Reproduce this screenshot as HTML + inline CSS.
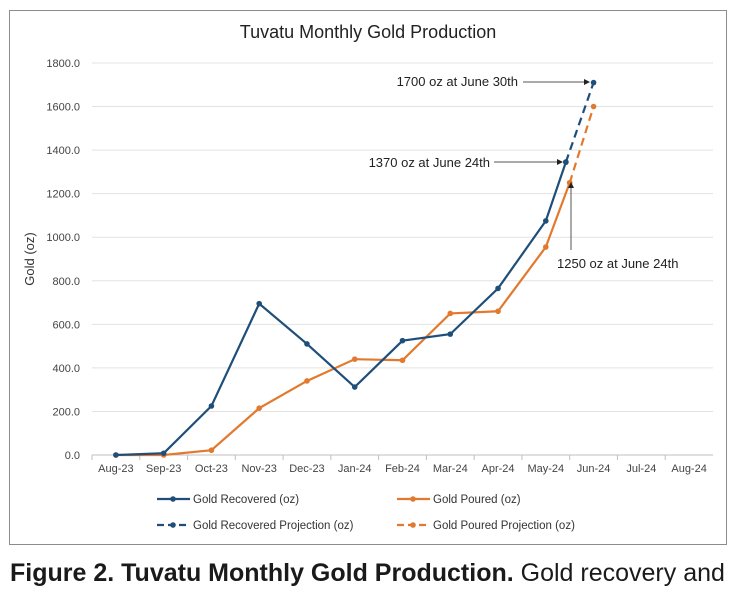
<!DOCTYPE html>
<html><head><meta charset="utf-8"><style>
body{margin:0;width:739px;height:589px;background:#fff;overflow:hidden;font-family:"Liberation Sans",sans-serif;}
#frame{position:absolute;left:9px;top:10px;width:716px;height:533px;border:1px solid #8c8c8c;}
#caption{position:absolute;left:10px;top:559px;font-size:25px;white-space:nowrap;color:#1a1a1a;}
</style></head><body>
<div id="frame"></div>
<svg id="chart" width="739" height="589" style="position:absolute;left:0;top:0"></svg>
<div id="caption"><b>Figure 2. Tuvatu Monthly Gold Production.</b> Gold recovery and</div>
<script>
const categories=["Aug-23","Sep-23","Oct-23","Nov-23","Dec-23","Jan-24","Feb-24","Mar-24","Apr-24","May-24","Jun-24","Jul-24","Aug-24"];
const recoveredX=[0,1,2,3,4,5,6,7,8,9,9.42];
const recovered=[0,8,225,695,510,312,525,555,765,1075,1345];
const pouredX=[0,1,2,3,4,5,6,7,8,9,9.5];
const poured=[0,0,22,215,340,440,435,650,660,955,1250];
const recProjX=[9.42,10];
const recProj=[1345,1710];
const pourProjX=[9.5,10];
const pourProj=[1250,1600];
const yTicks=[0,200,400,600,800,1000,1200,1400,1600,1800];
const NS="http://www.w3.org/2000/svg";
const svg=document.getElementById('chart');
const L=92,R=713,T=63,B=455;
const bw=(R-L)/categories.length;
function xs(i){return L+bw*(i+0.5);}
function ys(v){return B-(v/1800)*(B-T);}
function mk(tag,attrs,parent){const e=document.createElementNS(NS,tag);for(const k in attrs)e.setAttribute(k,attrs[k]);(parent||svg).appendChild(e);return e;}
const BLUE="#1f4e79",ORANGE="#e2792e";
let t=mk('text',{x:368,y:38,'text-anchor':'middle','font-size':18,fill:'#222'});t.textContent="Tuvatu Monthly Gold Production";


t=mk('text',{x:34,y:259,'text-anchor':'middle','font-size':13,fill:'#333',transform:'rotate(-90 34 259)'});t.textContent="Gold (oz)";


yTicks.forEach(v=>{
 const g=mk('line',{x1:L,x2:R,y1:ys(v),y2:ys(v),stroke:v===0?'#bfbfbf':'#e3e3e3','stroke-width':1});
 
 
 const l=mk('text',{x:80,y:ys(v)+4,'text-anchor':'end','font-size':11,fill:'#444'});l.textContent=v.toFixed(1);
 
 
});
categories.forEach((c,i)=>{
 const tk=mk('line',{x1:L+bw*i,x2:L+bw*i,y1:B,y2:B+5,stroke:'#bfbfbf'});
 
 
 const l=mk('text',{x:xs(i),y:B+17,'text-anchor':'middle','font-size':11,fill:'#444'});l.textContent=c;
 
 
});
function series(xa,va,color,dash,name){
 const p=mk('polyline',{points:xa.map((x,i)=>xs(x)+','+ys(va[i])).join(' '),fill:'none',stroke:color,'stroke-width':2.2,'stroke-dasharray':dash||'none'});
 
 
 xa.forEach((x,i)=>{
  const c=mk('circle',{cx:xs(x),cy:ys(va[i]),r:2.8,fill:color});
  
  
 });
}
series(pouredX,poured,ORANGE,null,'gold-poured');
series(recoveredX,recovered,BLUE,null,'gold-recovered');
series(recProjX,recProj,BLUE,'8,5','gold-recovered-projection');
series(pourProjX,pourProj,ORANGE,'8,5','gold-poured-projection');
mk('defs',{}).innerHTML='<marker id="ah" markerWidth="6" markerHeight="6" refX="5" refY="3" orient="auto"><path d="M0,0L6,3L0,6z" fill="#222"/></marker>';
function ann(txt,tx,ty,anchor,x1,y1,x2,y2,name){
 const a=mk('text',{x:tx,y:ty,'text-anchor':anchor,'font-size':13,fill:'#222'});a.textContent=txt;
 
 
 const ln=mk('line',{x1:x1,y1:y1,x2:x2,y2:y2,stroke:'#555','stroke-width':1,'marker-end':'url(#ah)'});
 
 
}
ann("1700 oz at June 30th",518,86,'end',523,82,589,82,'annotation-1700');
ann("1370 oz at June 24th",490,167,'end',494,162,562,162,'annotation-1370');
ann("1250 oz at June 24th",557,268,'start',571,250,571,183,'annotation-1250');
function leg(x,y,color,dash,txt,name){
 const g=mk('g',{});
 
 
 mk('line',{x1:x,x2:x+33,y1:y,y2:y,stroke:color,'stroke-width':2.2,'stroke-dasharray':dash||'none'},g);
 mk('circle',{cx:x+16,cy:y,r:2.8,fill:color},g);
 const l=mk('text',{x:x+36,y:y+4,'font-size':11.5,fill:'#333'},g);l.textContent=txt;
}
leg(157,499,BLUE,null,"Gold Recovered (oz)",'legend-gold-recovered');
leg(397,499,ORANGE,null,"Gold Poured (oz)",'legend-gold-poured');
leg(157,525,BLUE,'7,4',"Gold Recovered Projection (oz)",'legend-gold-recovered-projection');
leg(397,525,ORANGE,'7,4',"Gold Poured Projection (oz)",'legend-gold-poured-projection');
</script>
</body></html>
